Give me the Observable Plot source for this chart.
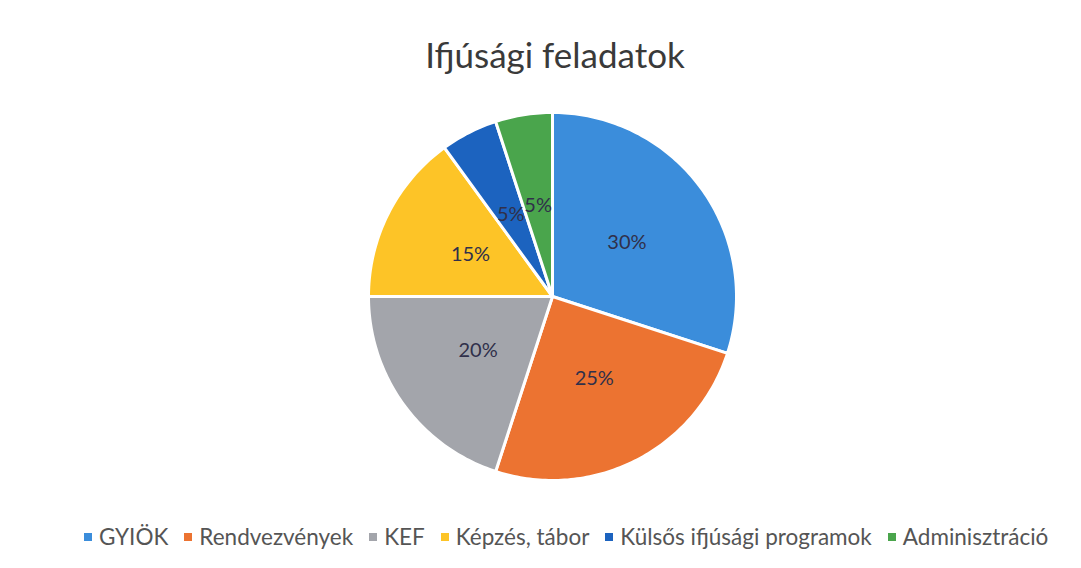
<!DOCTYPE html>
<html>
<head>
<meta charset="utf-8">
<script src="https://cdn.jsdelivr.net/npm/d3@7"></script>
<script src="https://cdn.jsdelivr.net/npm/@observablehq/plot@0.6"></script>
<style>
  html, body { margin: 0; padding: 0; background: #fff; }
  #wrap { position: relative; width: 1081px; height: 568px; overflow: hidden; font-family: Lato, "Open Sans", sans-serif; }
  #title { position: absolute; left: 0; width: 1110px; top: 33px; text-align: center; font-size: 35px; color: #3a3a3a; line-height: 1.2; }
  #chart { position: absolute; left: 0; top: 90px; }
  #legend { position: absolute; left: 84px; top: 523px; display: flex; font-size: 22.5px; color: #555; white-space: nowrap; line-height: 28px; }
  #legend .item { display: flex; align-items: center; margin-right: 16px; }
  #legend .sw { width: 8px; height: 8px; margin-right: 7px; }
</style>
</head>
<body>
<div id="wrap">
  <div id="title"></div>
  <div id="chart"></div>
  <div id="legend"></div>
</div>
<script>
const titleText = "Ifjúsági feladatok";
const categories = ["GYIÖK", "Rendvezvények", "KEF", "Képzés, tábor", "Külsős ifjúsági programok", "Adminisztráció"];
const values = [30, 25, 20, 15, 5, 5];
const colors = ["#3b8ddb", "#ec7331", "#a3a5ab", "#fdc427", "#1c63bf", "#4aa54c"];

document.getElementById("title").textContent = titleText;

// Build slice polygons from values (angle from 12 o'clock, clockwise)
const total = d3.sum(values);
const slices = [];
const labels = [];
let cum = 0;
categories.forEach((name, i) => {
  const a0 = cum / total * 2 * Math.PI;
  cum += values[i];
  const a1 = cum / total * 2 * Math.PI;
  slices.push({name, x: 0, y: 0});
  const n = Math.max(2, Math.ceil((a1 - a0) / (Math.PI / 180)));
  for (let k = 0; k <= n; k++) {
    const a = a0 + (a1 - a0) * k / n;
    slices.push({name, x: Math.sin(a), y: Math.cos(a)});
  }
  const am = (a0 + a1) / 2;
  labels.push({name, x: 0.5 * Math.sin(am), y: 0.5 * Math.cos(am), text: Math.round(values[i] / total * 100) + "%"});
});

const W = 1081, H = 420, R = 184, cx = 552, cy = 206;
const chart = Plot.plot({
  width: W, height: H,
  margin: 0,
  x: {domain: [-cx / R, (W - cx) / R], axis: null},
  y: {domain: [-(H - cy) / R, cy / R], axis: null},
  color: {domain: categories, range: colors},
  marks: [
    Plot.line(slices, {x: "x", y: "y", z: "name", fill: "name", stroke: "white", strokeWidth: 3, strokeLinejoin: "round", curve: "linear-closed"}),
    Plot.text(labels, {x: "x", y: "y", text: "text", fill: "#30304a", fontSize: 20, fontFamily: "Lato, 'Open Sans', sans-serif"})
  ]
});
document.getElementById("chart").appendChild(chart);

const legend = document.getElementById("legend");
categories.forEach((c, i) => {
  const it = document.createElement("div"); it.className = "item";
  const sw = document.createElement("div"); sw.className = "sw"; sw.style.background = colors[i];
  const tx = document.createElement("span"); tx.textContent = c;
  it.appendChild(sw); it.appendChild(tx); legend.appendChild(it);
});
</script>
</body>
</html>
